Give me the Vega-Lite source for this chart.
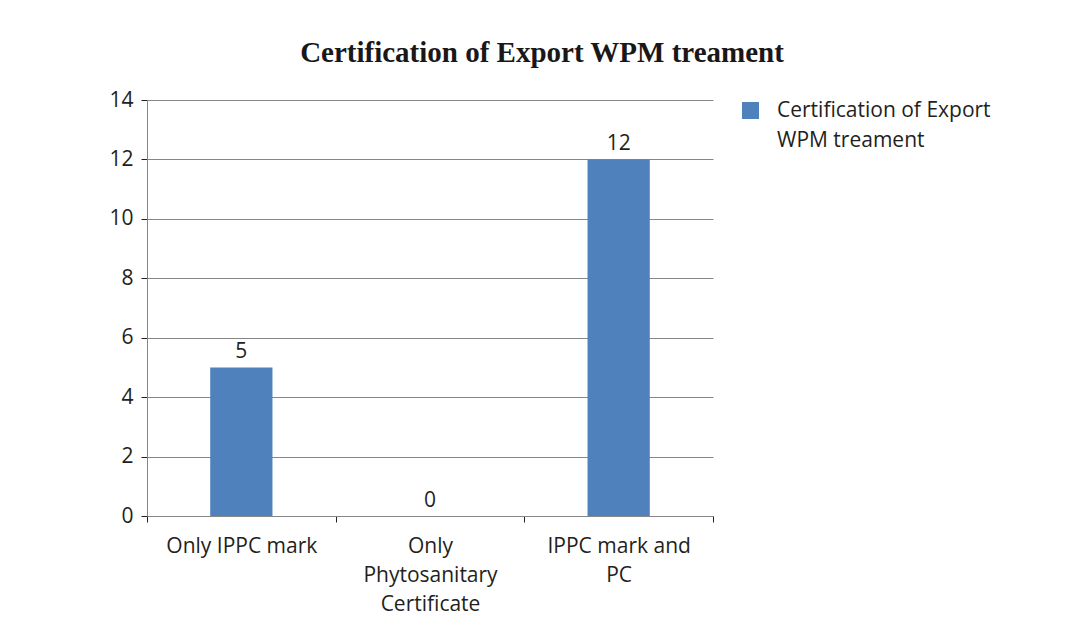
{
  "$schema": "https://vega.github.io/schema/vega-lite/v6.json",
  "width": 566,
  "height": 416,
  "autosize": {"type": "none"},
  "padding": {"left": 147, "top": 100, "right": 356, "bottom": 121},
  "background": "white",
  "title": {
    "text": "Certification of Export WPM treament",
    "font": "Liberation Serif",
    "fontSize": 29,
    "fontWeight": "bold",
    "color": "#1a1718",
    "anchor": "middle",
    "dx": 112,
    "offset": 21
  },
  "data": {
    "values": [
      {"category": "Only IPPC mark", "value": 5, "series": "Certification of Export WPM treament"},
      {"category": "Only Phytosanitary Certificate", "value": 0, "series": "Certification of Export WPM treament"},
      {"category": "IPPC mark and PC", "value": 12, "series": "Certification of Export WPM treament"}
    ]
  },
  "encoding": {
    "x": {
      "field": "category",
      "type": "nominal",
      "sort": null,
      "scale": {"paddingInner": 0, "paddingOuter": 0},
      "axis": {
        "title": null,
        "labelAngle": 0,
        "tickBand": "extent",
        "labelExpr": "datum.value == 'Only Phytosanitary Certificate' ? ['Only', 'Phytosanitary', 'Certificate'] : datum.value == 'IPPC mark and PC' ? ['IPPC mark and', 'PC'] : datum.value",
        "labelLineHeight": 29,
        "labelPadding": 13,
        "tickSize": 6,
        "labelBaseline": "top",
        "labelLimit": 400
      }
    },
    "y": {
      "field": "value",
      "type": "quantitative",
      "scale": {"domain": [0, 14], "nice": false},
      "axis": {
        "title": null,
        "values": [0, 2, 4, 6, 8, 10, 12, 14],
        "tickSize": 6,
        "labelPadding": 8
      }
    }
  },
  "layer": [
    {
      "mark": {"type": "bar", "width": {"band": 0.33}},
      "encoding": {
        "color": {
          "field": "series",
          "type": "nominal",
          "scale": {"range": ["#4f81bd"]},
          "legend": {
            "title": null,
            "orient": "right",
            "offset": 27,
            "padding": 0,
            "symbolType": "square",
            "symbolSize": 289,
            "symbolStrokeWidth": 0,
            "labelOffset": 16,
            "labelLimit": 400,
            "labelExpr": "['Certification of Export', 'WPM treament']",
            "encode": {
              "labels": {"update": {"lineHeight": {"value": 30}}}
            }
          }
        }
      }
    },
    {
      "mark": {"type": "text", "baseline": "bottom", "dy": -5, "font": "Open Sans", "fontSize": 21, "color": "#231f20"},
      "encoding": {"text": {"field": "value", "type": "quantitative"}}
    }
  ],
  "config": {
    "view": {"stroke": null},
    "axis": {
      "labelFont": "Open Sans",
      "labelFontSize": 21,
      "labelColor": "#231f20",
      "domainColor": "#868686",
      "tickColor": "#231f20",
      "gridColor": "#868686",
      "gridOpacity": 1,
      "domainWidth": 1,
      "tickWidth": 1
    },
    "axisX": {"grid": false},
    "axisY": {"grid": true},
    "legend": {
      "labelFont": "Open Sans",
      "labelFontSize": 21,
      "labelColor": "#231f20"
    }
  }
}
